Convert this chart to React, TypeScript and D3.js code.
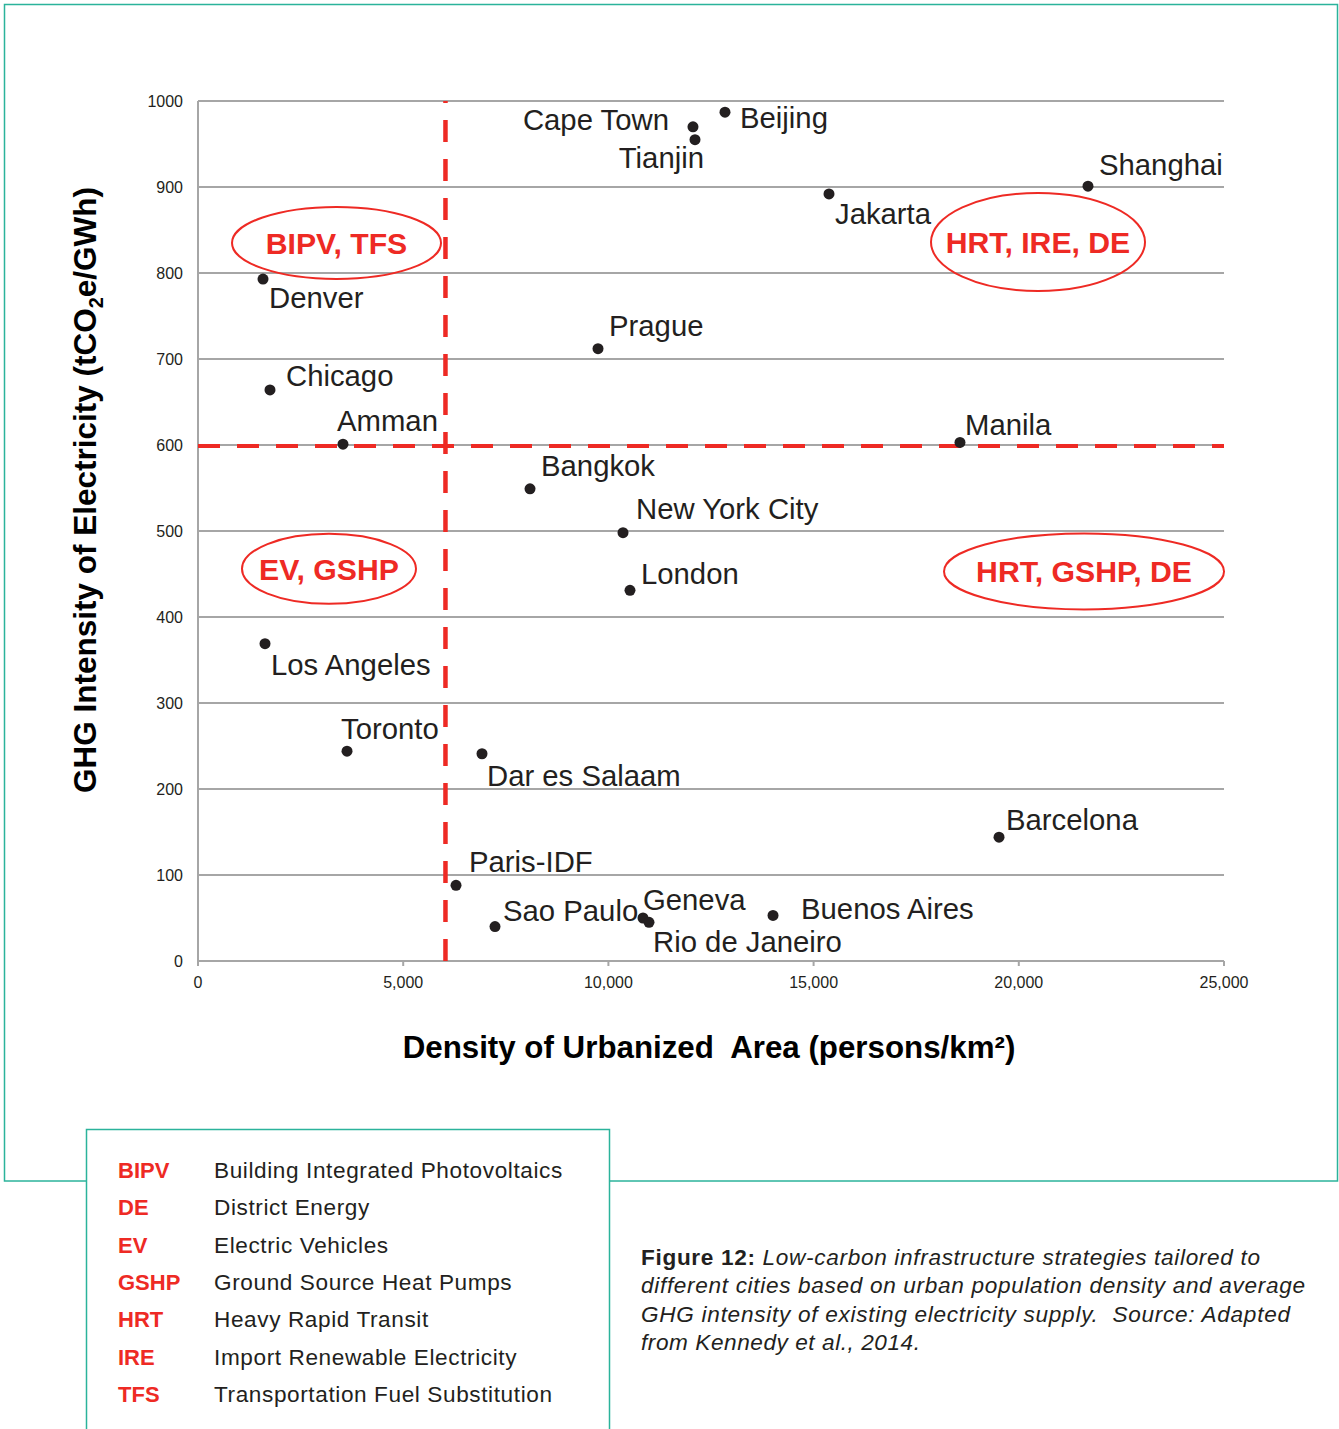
import React from "react";
import * as d3 from "d3";

// ---------- data ----------
const cities = [
  "Denver", "Chicago", "Amman", "Los Angeles", "Toronto", "Cape Town", "Tianjin",
  "Beijing", "Jakarta", "Shanghai", "Prague", "Manila", "Bangkok", "New York City",
  "London", "Dar es Salaam", "Barcelona", "Paris-IDF", "Sao Paulo", "Geneva",
  "Rio de Janeiro", "Buenos Aires",
];
const density = [
  1584, 1754, 3533, 1633, 3631, 12061, 12110, 12841, 15375, 21686, 9747, 18567,
  8090, 10356, 10526, 6920, 19518, 6287, 7237, 10843, 10989, 14011,
];
const ghgIntensity = [
  793, 664, 601, 369, 244, 970, 955, 987, 892, 901, 712, 603, 549, 498, 431, 241,
  144, 88, 40, 50, 45, 53,
];

const xTicks = [0, 5000, 10000, 15000, 20000, 25000];
const yTicks = [0, 100, 200, 300, 400, 500, 600, 700, 800, 900, 1000];

const densityThreshold = 6030;
const ghgThreshold = 600;

const strategyLabels = ["BIPV, TFS", "HRT, IRE, DE", "EV, GSHP", "HRT, GSHP, DE"];
const strategyDensity = [3375, 20468, 3192, 21589];
const strategyGhg = [835, 836, 456, 453];

const abbreviations = ["BIPV", "DE", "EV", "GSHP", "HRT", "IRE", "TFS"];
const definitions = [
  "Building Integrated Photovoltaics",
  "District Energy",
  "Electric Vehicles",
  "Ground Source Heat Pumps",
  "Heavy Rapid Transit",
  "Import Renewable Electricity",
  "Transportation Fuel Substitution",
];

const captionBold = "Figure 12:";
const captionLines = [
  " Low-carbon infrastructure strategies tailored to",
  "different cities based on urban population density and average",
  "GHG intensity of existing electricity supply.  Source: Adapted",
  "from Kennedy et al., 2014.",
];

// ---------- styling / layout ----------
const W = 1339;
const H = 1429;
const FONT = "'Liberation Sans', Arial, Helvetica, sans-serif";
const TEAL = "#2BB39B";
const RED = "#EE2A24";
const INK = "#231F20";
const GRID = "#A6A6A6";

// label offsets [dx, dy, anchor] relative to each point
const labelOffsets: [number, number, string][] = [
  [6, 29, "start"], // Denver
  [16, -4, "start"], // Chicago
  [-6, -13, "start"], // Amman
  [6, 31, "start"], // Los Angeles
  [-6, -12, "start"], // Toronto
  [-24, 3, "end"], // Cape Town
  [9, 28, "end"], // Tianjin
  [15, 16, "start"], // Beijing
  [6, 30, "start"], // Jakarta
  [11, -11, "start"], // Shanghai
  [11, -13, "start"], // Prague
  [5, -7, "start"], // Manila
  [11, -13, "start"], // Bangkok
  [13, -14, "start"], // New York City
  [11, -6, "start"], // London
  [5, 32, "start"], // Dar es Salaam
  [7, -7, "start"], // Barcelona
  [13, -13, "start"], // Paris-IDF
  [8, -6, "start"], // Sao Paulo
  [0, -8, "start"], // Geneva
  [4, 30, "start"], // Rio de Janeiro
  [28, 4, "start"], // Buenos Aires
];

const ellipseRadii: [number, number][] = [
  [104.5, 36],
  [107, 49],
  [87, 35],
  [140, 38],
];

const captionWidths = [619, 664, 649, 279];

export default function App() {
  const x = d3.scaleLinear().domain([0, 25000]).range([198, 1224]);
  const y = d3.scaleLinear().domain([0, 1000]).range([961, 101]);
  const fmtX = d3.format(",");

  return (
    <svg
      width={W}
      height={H}
      viewBox={`0 0 ${W} ${H}`}
      style={{ position: "absolute", left: 0, top: 0, background: "#fff" }}
      fontFamily={FONT}
    >
      <rect x={0} y={0} width={W} height={H} fill="#fff" />
      {/* outer frame */}
      <rect x={4.5} y={4.5} width={1333} height={1176.5} fill="none" stroke={TEAL} strokeWidth={1.5} />

      {/* grid lines */}
      {yTicks.map((t) => (
        <line key={"g" + t} x1={x(0)} x2={x(25000)} y1={y(t)} y2={y(t)} stroke={GRID} strokeWidth={2} />
      ))}
      {/* y axis line */}
      <line x1={x(0)} x2={x(0)} y1={y(1000)} y2={y(0)} stroke={GRID} strokeWidth={2} />
      {/* x ticks */}
      {xTicks.map((t) => (
        <line key={"xt" + t} x1={x(t)} x2={x(t)} y1={y(0)} y2={y(0) + 5} stroke={GRID} strokeWidth={2} />
      ))}
      {/* tick labels */}
      {yTicks.map((t) => (
        <text key={"yl" + t} x={183} y={y(t) + 5.5} textAnchor="end" fontSize={16} fill={INK}>
          {t}
        </text>
      ))}
      {xTicks.map((t) => (
        <text key={"xl" + t} x={x(t)} y={988} textAnchor="middle" fontSize={16} fill={INK}>
          {fmtX(t)}
        </text>
      ))}

      {/* threshold dashed lines */}
      <line
        x1={x(0)}
        x2={x(25000)}
        y1={y(ghgThreshold) + 1}
        y2={y(ghgThreshold) + 1}
        stroke={RED}
        strokeWidth={4}
        strokeDasharray="22 17"
      />
      <line
        x1={x(densityThreshold)}
        x2={x(densityThreshold)}
        y1={y(0)}
        y2={y(1000)}
        stroke={RED}
        strokeWidth={4.5}
        strokeDasharray="22 17"
      />

      {/* points and labels */}
      {cities.map((c, i) => {
        const px = x(density[i]);
        const py = y(ghgIntensity[i]);
        const [dx, dy, anchor] = labelOffsets[i];
        return (
          <g key={c}>
            <circle cx={px} cy={py} r={5.5} fill={INK} />
            <text x={px + dx} y={py + dy} textAnchor={anchor as any} fontSize={29.3} fill={INK}>
              {c}
            </text>
          </g>
        );
      })}

      {/* strategy ellipses */}
      {strategyLabels.map((s, i) => {
        const cx = x(strategyDensity[i]);
        const cy = y(strategyGhg[i]);
        const [rx, ry] = ellipseRadii[i];
        return (
          <g key={s}>
            <ellipse cx={cx} cy={cy} rx={rx} ry={ry} fill="none" stroke={RED} strokeWidth={2} />
            <text x={cx} y={cy + 11} textAnchor="middle" fontSize={30.2} fontWeight="bold" fill={RED}>
              {s}
            </text>
          </g>
        );
      })}

      {/* axis titles */}
      <text
        x={709}
        y={1058}
        textAnchor="middle"
        fontSize={31.3}
        fontWeight="bold"
        fill="#000"
        style={{ whiteSpace: "pre" }}
      >
        {"Density of Urbanized  Area (persons/km²)"}
      </text>
      <text
        transform="translate(96,490) rotate(-90)"
        textAnchor="middle"
        fontSize={31.5}
        fontWeight="bold"
        fill="#000"
      >
        <tspan>GHG Intensity of Electricity (tCO</tspan>
        <tspan fontSize={20} dy={7}>2</tspan>
        <tspan dy={-7}>e/GWh)</tspan>
      </text>

      {/* legend box */}
      <rect x={86.5} y={1129.5} width={523} height={400} fill="#fff" stroke={TEAL} strokeWidth={1.5} />
      {abbreviations.map((a, i) => (
        <g key={a}>
          <text x={118} y={1178 + i * 37.3} fontSize={22} fontWeight="bold" fill={RED}>
            {a}
          </text>
          <text x={214} y={1178 + i * 37.3} fontSize={22.6} letterSpacing={0.6} fill={INK}>
            {definitions[i]}
          </text>
        </g>
      ))}

      {/* caption */}
      {captionLines.map((l, i) => (
        <text
          key={"cap" + i}
          x={641}
          y={1265 + i * 28.4}
          fontSize={22.6}
          fill={INK}
          textLength={captionWidths[i]}
          style={{ whiteSpace: "pre" }}
        >
          {i === 0 ? (
            <>
              <tspan fontWeight="bold">{captionBold}</tspan>
              <tspan fontStyle="italic">{l}</tspan>
            </>
          ) : (
            <tspan fontStyle="italic">{l}</tspan>
          )}
        </text>
      ))}
    </svg>
  );
}
